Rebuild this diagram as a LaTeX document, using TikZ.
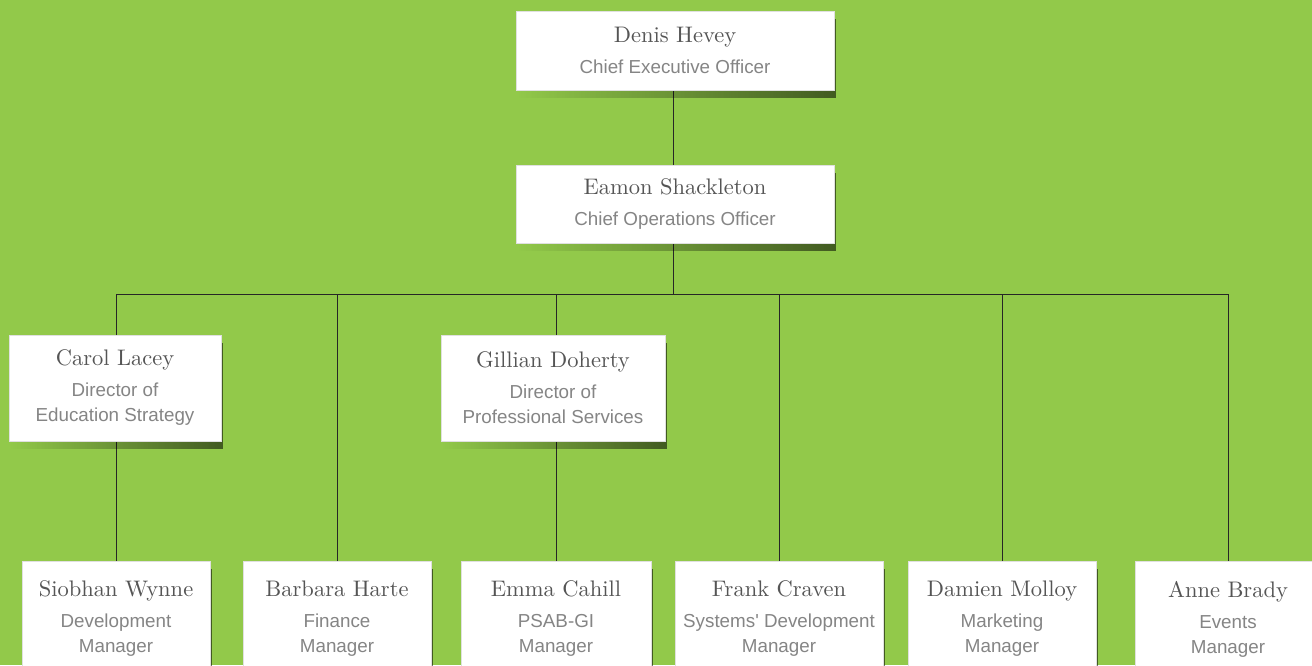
\documentclass[tikz,border=0pt]{standalone}
\usepackage{fontspec}
\newfontfamily\sansfont{Liberation Sans}
\newfontfamily\namefont{lmroman10-regular}[Extension=.otf]
\usetikzlibrary{shadows,fadings,positioning}

\definecolor{leaf}{HTML}{92C94A}
\definecolor{namegray}{HTML}{555555}
\definecolor{titlegray}{HTML}{858585}
\tikzfading[name=shadowfade, left color=transparent!100, right color=transparent!0]
\pgfdeclarelayer{bg}
\pgfsetlayers{bg,main}
\newcommand{\person}[2]{{\namefont\fontsize{22.5}{26}\selectfont\color{namegray}#1}\\[6pt]#2}

\begin{document}
\begin{tikzpicture}[x=1pt, y=-1pt]
	\tikzstyle{box}=[fill=white, draw=black!12, line width=0.6pt, align=center, inner sep=0pt,
		font=\sansfont\fontsize{18.8}{25}\selectfont, text=titlegray,
		general shadow={fill=black, opacity=.55, shadow xshift=2pt, shadow yshift=-8pt, path fading=shadowfade}]
	\tikzstyle{wire}=[draw=black!85, line width=1pt]
	\useasboundingbox (0,0) rectangle (1312,665);
	\node[box, minimum width=318pt, minimum height=79pt]  (ceo) at (675,50.5) {\person{Denis Hevey}{Chief Executive Officer}};
	\node[box, minimum width=318pt, minimum height=78pt]  (coo) at (675,204) {\person{Eamon Shackleton}{Chief Operations Officer}};
	\node[box, minimum width=212pt, minimum height=106pt] (d1)  at (115,388) {\person{Carol Lacey}{Director of\\Education Strategy}};
	\node[box, minimum width=224pt, minimum height=106pt] (d2)  at (553,388) {\person{Gillian Doherty}{Director of\\Professional Services}};
	\node[box, minimum width=188pt, minimum height=116pt] (m1)  at (116,619) {\person{Siobhan Wynne}{Development\\Manager}};
	\node[box, minimum width=188pt, minimum height=116pt] (m2)  at (337,619) {\person{Barbara Harte}{Finance\\Manager}};
	\node[box, minimum width=190pt, minimum height=116pt] (m3)  at (556,619) {\person{Emma Cahill}{PSAB-GI\\Manager}};
	\node[box, minimum width=208pt, minimum height=116pt] (m4)  at (779,619) {\person{Frank Craven}{Systems' Development\\Manager}};
	\node[box, minimum width=188pt, minimum height=116pt] (m5)  at (1002,619) {\person{Damien Molloy}{Marketing\\Manager}};
	\node[box, minimum width=186pt, minimum height=116pt] (m6)  at (1228,619) {\person{Anne Brady}{Events\\Manager}};
	\coordinate (bus) at (673,294);
	\begin{pgfonlayer}{bg}
	\fill[leaf] (0,0) rectangle (1312,665);
	\path[wire]
	(ceo.south -| bus) -- (coo.north -| bus)
	(coo.south -| bus) -- (bus)
	(m1.north |- bus) -- (m6.north |- bus);
	\foreach \n in {m1,m2,m3,m4,m5,m6}
		\draw[wire] (\n.north) -- (\n.north |- bus);
	\end{pgfonlayer}
\end{tikzpicture}
\end{document}
